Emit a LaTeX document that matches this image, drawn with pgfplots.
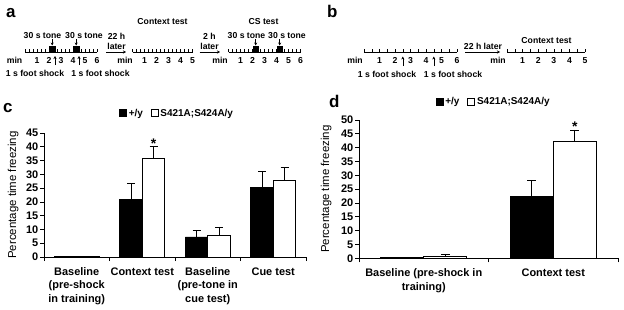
\documentclass[border=0pt]{standalone}
\usepackage{pgfplots}
\pgfplotsset{compat=1.18}
\usepackage{fontspec}
\setmainfont{Liberation Sans}
\usetikzlibrary{arrows.meta}
\newcommand{\tline}[4]{%
 \draw[line width=0.7bp] (#1,257) -- ({#1+#2*#3},257);
 \pgfmathtruncatemacro{\nt}{#3*#4}
 \foreach \i in {0,...,\nt} \draw[line width=0.5bp] ({#1+\i*#2/#4},257) -- ++(0,2.6);
 \foreach \k in {1,...,#3} \node[tl] at ({#1+\k*#2},248.5) {\k};
}
\begin{document}
\begin{tikzpicture}[x=1bp,y=1bp,
 tl/.style={font=\fontsize{8.7}{10}\selectfont\bfseries, inner sep=0pt},
 arr/.style={-{Stealth[length=3bp,width=3bp]}, line width=0.6bp},
 plab/.style={font=\fontsize{17}{17}\selectfont\bfseries, inner sep=0pt, anchor=base west}]
\path[use as bounding box] (0,0) rectangle (624,309);
% ---------------- panel a ----------------
\node[plab] at (6,292) {a};
\tline{25}{12}{6}{3}
\node[tl] at (14.5,248.5) {min};
\fill (49,257) rectangle (55.5,263);
\fill (73,257) rectangle (79.5,263);
\node[tl] at (42.5,273) {30 s tone};
\node[tl] at (84,273) {30 s tone};
\draw[arr] (52.2,270) -- (52.2,263.5);
\draw[arr] (76.2,270) -- (76.2,263.5);
\draw[arr] (55,244) -- (55,253);
\draw[arr] (79,244) -- (79,253);
\node[tl] at (35,235.5) {1 s foot shock};
\node[tl] at (100.5,235.5) {1 s foot shock};
\node[tl] at (116.5,273) {22 h};
\node[tl] at (116.5,263) {later};
\draw[arr] (106,257) -- (126,257);
\tline{132.5}{12}{5}{3}
\node[tl] at (125,248.5) {min};
\node[tl] at (162.5,287) {Context test};
\node[tl] at (209.5,273) {2 h};
\node[tl] at (209.5,263) {later};
\draw[arr] (199.5,257) -- (220,257);
\tline{228.5}{12}{6}{3}
\node[tl] at (220,248.5) {min};
\fill (252.5,257) rectangle (259,263);
\fill (276.5,257) rectangle (283,263);
\node[tl] at (246.5,273) {30 s tone};
\node[tl] at (287,273) {30 s tone};
\draw[arr] (255.7,270) -- (255.7,263.5);
\draw[arr] (279.7,270) -- (279.7,263.5);
\node[tl] at (263.5,287) {CS test};
% ---------------- panel b ----------------
\node[plab] at (327,292) {b};
\tline{364}{15.5}{6}{2}
\node[tl] at (355,248.5) {min};
\draw[arr] (402.8,243) -- (402.8,252.5);
\draw[arr] (433.8,243) -- (433.8,252.5);
\node[tl] at (387,235) {1 s foot shock};
\node[tl] at (453,235) {1 s foot shock};
\node[tl] at (483,263) {22 h later};
\draw[arr] (465,257) -- (500,257);
\tline{507}{15.6}{5}{2}
\node[tl] at (498,248.5) {min};
\node[tl] at (546.5,268.5) {Context test};
% ---------------- panel c ----------------
\node[plab] at (3,197) {c};
\begin{axis}[
 at={(44bp,52bp)}, anchor=south west,
 width=262bp, height=124bp, scale only axis,
 xmin=0, xmax=4, ymin=0, ymax=45,
 axis x line*=bottom, axis y line*=left,
 axis line style={black, line width=0.8bp},
 ybar=0pt, bar width=22.5bp,
 ytick={0,5,...,45},
 xtick={0.5,1.5,2.5,3.5},
 xticklabels={{Baseline\\(pre-shock\\in training)},{Context test},{Baseline\\(pre-tone in\\cue test)},{Cue test}},
 minor xtick={0,1,2,3,4},
 major x tick style={draw=none},
 tick align=outside,
 tick style={black, line width=0.7bp},
 major tick length=4bp, minor tick length=4bp,
 /pgf/number format/assume math mode=true,
 yticklabel style={font=\fontsize{11}{13}\selectfont\bfseries, inner sep=1.5bp},
 xticklabel style={font=\fontsize{11}{13.5}\selectfont\bfseries, align=center, yshift=-3bp},
 ylabel={Percentage time freezing},
 every axis y label/.style={at={(axis description cs:-0.118,0.5)}, rotate=90, anchor=center, font=\fontsize{11.5}{12}\selectfont},
 legend style={at={(axis description cs:0.508,1.16)}, anchor=center, draw=none, fill=none, legend columns=-1, font=\fontsize{10}{12}\selectfont\bfseries, /tikz/every even column/.append style={column sep=6bp}},
 legend image code/.code={\draw[#1,draw=black,line width=0.6bp] (0bp,-3.5bp) rectangle (7bp,3.5bp);},
 error bars/error bar style={black, line width=0.7bp},
 error bars/error mark options={rotate=90, black, mark size=4bp, line width=0.7bp},
]
\addplot[fill=black, draw=black, line width=0.6bp, error bars/.cd, y dir=plus, y explicit]
 coordinates {(0.5,0.3) (1.5,20.9) +- (0,5.7) (2.5,7.3) +- (0,2.4) (3.5,25.4) +- (0,5.8)};
\addlegendentry{+/y}
\addplot[fill=white, draw=black, line width=0.6bp, error bars/.cd, y dir=plus, y explicit]
 coordinates {(0.5,0.3) (1.5,35.9) +- (0,4.1) (2.5,8.0) +- (0,2.9) (3.5,27.9) +- (0,4.7)};
\addlegendentry{S421A;S424A/y}
\node[font=\fontsize{14}{14}\selectfont\bfseries, xshift=11.25bp] at (axis cs:1.5,41) {*};
\end{axis}
% ---------------- panel d ----------------
\node[plab] at (329,202) {d};
\begin{axis}[
 at={(359bp,50.7bp)}, anchor=south west,
 width=259bp, height=138.3bp, scale only axis,
 xmin=0, xmax=2, ymin=0, ymax=50,
 axis x line*=bottom, axis y line*=left,
 axis line style={black, line width=0.8bp},
 ybar=0pt, bar width=43bp,
 ytick={0,5,...,50},
 xtick={0.5,1.5},
 xticklabels={{Baseline (pre-shock in\\training)},{Context test}},
 minor xtick={0,1,2},
 major x tick style={draw=none},
 tick align=outside,
 tick style={black, line width=0.7bp},
 major tick length=4bp, minor tick length=4bp,
 /pgf/number format/assume math mode=true,
 yticklabel style={font=\fontsize{11}{13}\selectfont\bfseries, inner sep=1.5bp},
 xticklabel style={font=\fontsize{11}{13.5}\selectfont\bfseries, align=center, yshift=-3bp},
 ylabel={Percentage time freezing},
 every axis y label/.style={at={(axis description cs:-0.127,0.5)}, rotate=90, anchor=center, font=\fontsize{11.5}{12}\selectfont},
 legend style={at={(axis description cs:0.52,1.13)}, anchor=center, draw=none, fill=none, legend columns=-1, font=\fontsize{10}{12}\selectfont\bfseries, /tikz/every even column/.append style={column sep=6bp}},
 legend image code/.code={\draw[#1,draw=black,line width=0.6bp] (0bp,-3.5bp) rectangle (7bp,3.5bp);},
 error bars/error bar style={black, line width=0.7bp},
 error bars/error mark options={rotate=90, black, mark size=4.5bp, line width=0.7bp},
]
\addplot[fill=black, draw=black, line width=0.6bp, error bars/.cd, y dir=plus, y explicit]
 coordinates {(0.5,0.3) (1.5,22.3) +- (0,6.0)};
\addlegendentry{+/y}
\addplot[fill=white, draw=black, line width=0.6bp, error bars/.cd, y dir=plus, y explicit]
 coordinates {(0.5,0.7) +- (0,0.6) (1.5,42.3) +- (0,4.1)};
\addlegendentry{S421A;S424A/y}
\node[font=\fontsize{14}{14}\selectfont\bfseries, xshift=21.5bp] at (axis cs:1.5,47.6) {*};
\end{axis}
\end{tikzpicture}
\end{document}
